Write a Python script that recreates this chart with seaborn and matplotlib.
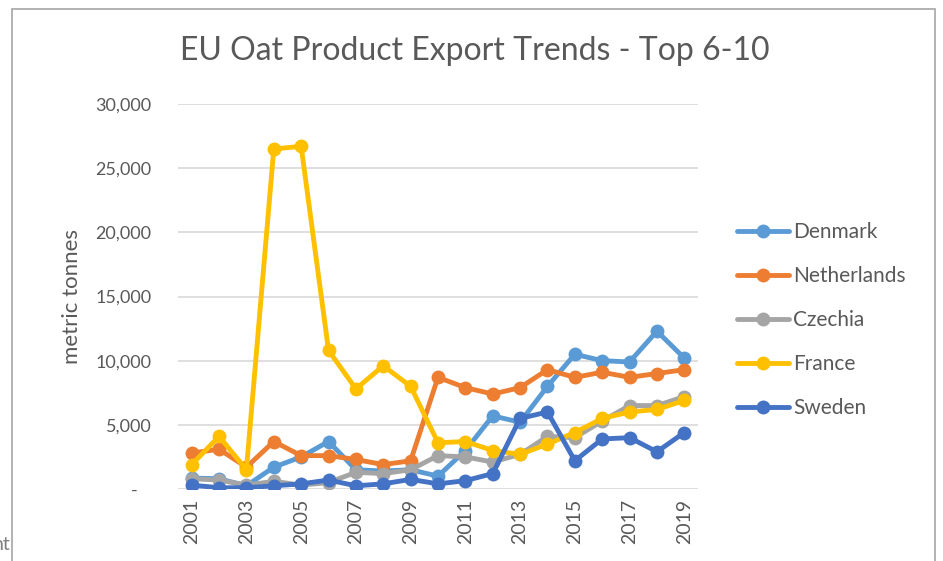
# EU oat product export trends, top 6-10
import pandas as pd
import numpy as np
import matplotlib.pyplot as plt
import matplotlib.ticker as ticker
from matplotlib.lines import Line2D
from matplotlib.patches import Rectangle
import seaborn as sns

# данные (метрические тонны)
years = list(range(2001, 2020))
denmark = [850, 800, 250, 1700, 2500, 3700, 1500, 1400, 1500, 1000,
           3000, 5700, 5200, 8000, 10500, 10000, 9900, 12300, 10200]
netherlands = [2800, 3100, 1700, 3700, 2600, 2600, 2300, 1900, 2200, 8700,
               7900, 7400, 7900, 9300, 8700, 9100, 8700, 9000, 9300]
czechia = [800, 700, 300, 600, 300, 500, 1300, 1200, 1500, 2600,
           2500, 2100, 2700, 4100, 4000, 5300, 6500, 6500, 7200]
france = [1900, 4100, 1500, 26500, 26700, 10800, 7800, 9600, 8000, 3600,
          3700, 3000, 2700, 3500, 4400, 5500, 6000, 6200, 6900]
sweden = [300, 100, 100, 250, 400, 700, 250, 400, 750, 400,
          650, 1200, 5500, 6000, 2200, 3900, 4000, 2900, 4400]
countries = ['Denmark', 'Netherlands', 'Czechia', 'France', 'Sweden']
colors = ['#5B9BD5', '#ED7D31', '#A5A5A5', '#FFC000', '#4472C4']

df = pd.DataFrame({'year': years, 'Denmark': denmark, 'Netherlands': netherlands,
                   'Czechia': czechia, 'France': france, 'Sweden': sweden})
df = df.melt(id_vars='year', var_name='country', value_name='tonnes')

sns.set_style('white')
plt.rcParams['font.family'] = ['Lato', 'DejaVu Sans']
grey = '#595959'

fig = plt.figure(figsize=(9.43, 5.61), dpi=100)
ax = fig.add_axes([178 / 943, 1 - 489 / 561, 520 / 943, 385 / 561])

for c, col in zip(countries, colors):
    sns.lineplot(data=df[df['country'] == c], x='year', y='tonnes', color=col,
                 marker='o', markersize=10, markeredgewidth=0, linewidth=3.5,
                 ax=ax, legend=False, zorder=3)

ax.set_xlim(2000.5, 2019.5)
ax.set_ylim(0, 30000)
ax.set_yticks(np.arange(0, 30001, 5000))
ax.yaxis.set_major_formatter(ticker.FuncFormatter(
    lambda x, pos: '-   ' if x == 0 else '{:,.0f}'.format(x)))
ax.set_xticks(years[::2])
ax.set_xticklabels([str(y) for y in years[::2]], rotation=90)
ax.tick_params(axis='y', length=0, pad=19, labelsize=13, labelcolor=grey)
ax.tick_params(axis='x', length=0, pad=7, labelsize=14, labelcolor=grey)
ax.grid(axis='y', color='#D9D9D9', linewidth=1.2, zorder=0)
ax.set_axisbelow(True)
for s in ax.spines.values():
    s.set_visible(False)
ax.set_xlabel('')
ax.set_ylabel('metric tonnes', fontsize=16, color=grey, labelpad=10)

fig.text(475 / 943, 1 - 51 / 561, 'EU Oat Product Export Trends - Top 6-10',
         ha='center', va='center', fontsize=23, color=grey)

handles = [Line2D([], [], color=col, linewidth=3.5, marker='o', markersize=10,
                  markeredgewidth=0) for col in colors]
leg = fig.legend(handles, countries, loc='center left',
                 bbox_to_anchor=(718 / 943, 1 - 320 / 561), frameon=False,
                 fontsize=15, labelspacing=1.15, handlelength=2.5,
                 handletextpad=0.2)
for t in leg.get_texts():
    t.set_color(grey)

# рамка вокруг диаграммы
fig.patches.append(Rectangle((12 / 943, -0.05), 923 / 943, 1.05 - 9 / 561,
                             transform=fig.transFigure, fill=False,
                             edgecolor='#A6A6A6', linewidth=1.2))
fig.text(10 / 943, 1 - 545 / 561, 'nt', ha='right', va='center',
         fontsize=14, color='#7F7F7F')

plt.savefig('out.png', dpi=100)
plt.close()
